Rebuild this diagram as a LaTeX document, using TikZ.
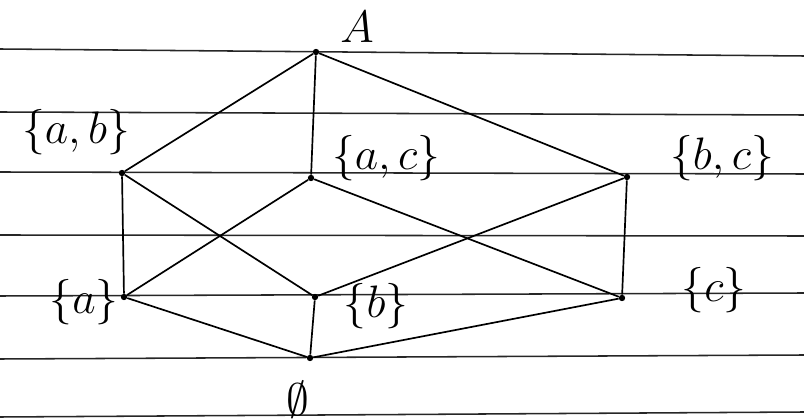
\documentclass[tikz,border=0pt]{standalone}
\begin{document}
\begin{tikzpicture}[x=0.025cm, y=-0.025cm,
  dot/.style={circle, fill, inner sep=1.6pt},
  lbl/.style={font=\Huge, scale=1.3},
  rule/.style={line width=1.1pt, black!85},
  edge/.style={line width=1.2pt}
]
\useasboundingbox (0,0) rectangle (804,419);
% ruled paper
\foreach \l/\r in {49/56, 112/115, 172/174, 235/236, 296/293, 359/355, 417/412}
  \draw[rule] (0,\l) -- (804,\r);

% elements
\node[dot] (top) at (316,52) {};
\node[dot] (ab) at (122,173) {};
\node[dot] (ac) at (311,178) {};
\node[dot] (bc) at (627,177) {};
\node[dot] (a) at (124,297) {};
\node[dot] (b) at (315,297) {};
\node[dot] (c) at (622,298) {};
\node[dot] (bot) at (310,358) {};

% labels
\node[lbl] (ltop) at (357,27) {$A$};
\node[lbl] (lab) at (76,132) {$\{a,b\}$};
\node[lbl] (lac) at (386,158) {$\{a,c\}$};
\node[lbl] (lbc) at (722,158) {$\{b,c\}$};
\node[lbl] (la) at (84,302) {$\{a\}$};
\node[lbl] (lb) at (376,306) {$\{b\}$};
\node[lbl] (lc) at (714,290) {$\{c\}$};
\node[lbl] (lbot) at (298,400) {$\emptyset$};

% covering relations
\draw[edge] (top) -- (ab);
\draw[edge] (top) -- (ac);
\draw[edge] (top) -- (bc);
\draw[edge] (ab) -- (a);
\draw[edge] (ab) -- (b);
\draw[edge] (ac) -- (a);
\draw[edge] (ac) -- (c);
\draw[edge] (bc) -- (b);
\draw[edge] (bc) -- (c);
\draw[edge] (a) -- (bot);
\draw[edge] (b) -- (bot);
\draw[edge] (c) -- (bot);
\end{tikzpicture}
\end{document}
